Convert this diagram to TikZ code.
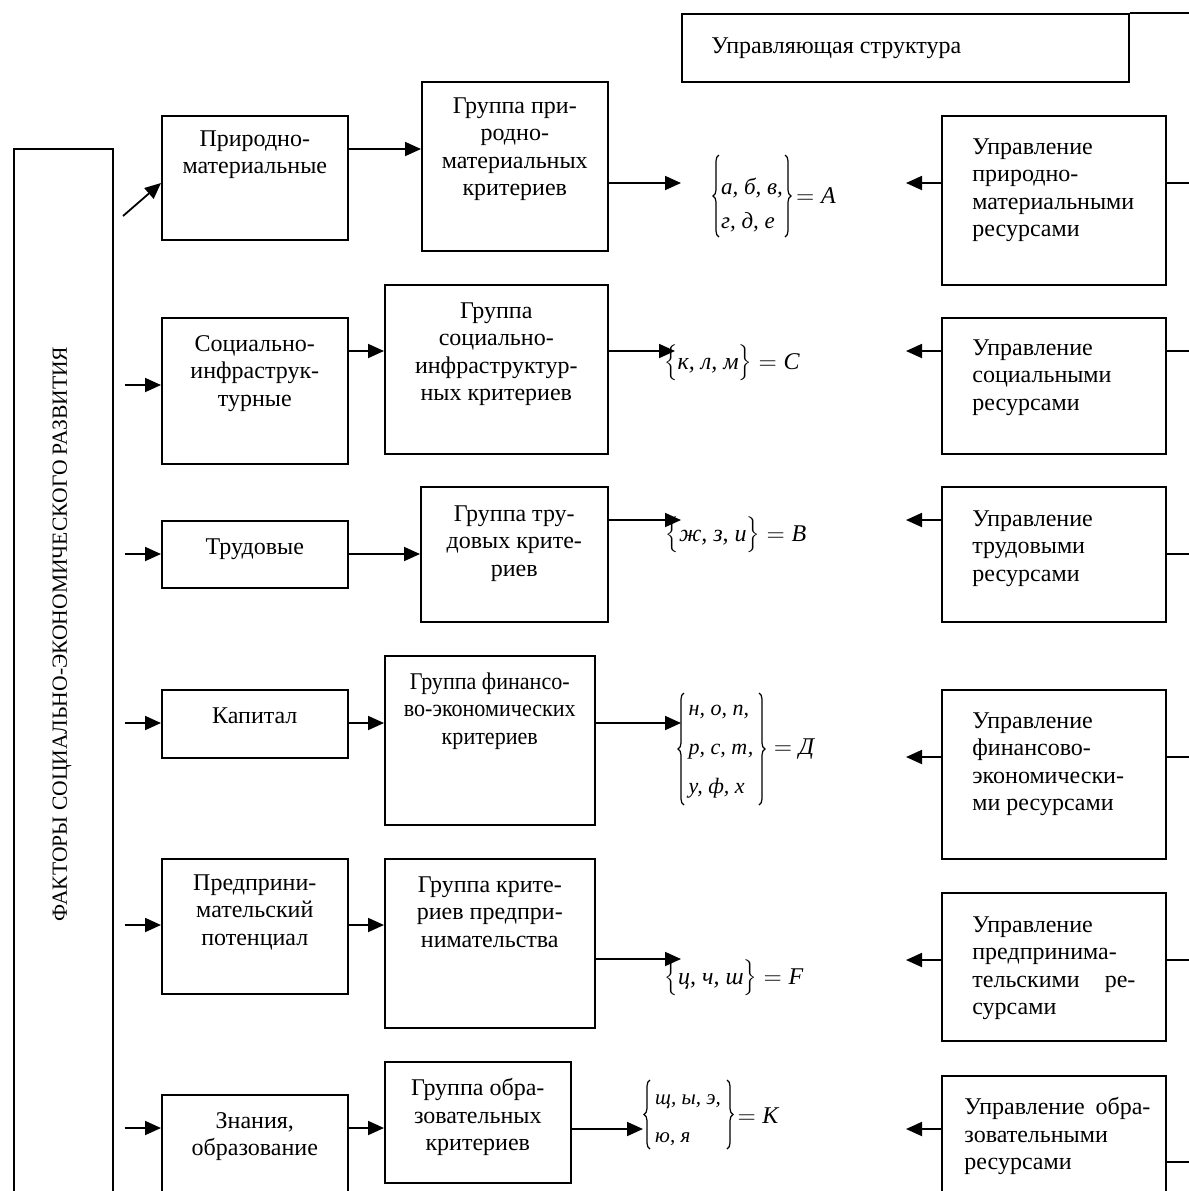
\documentclass[tikz,border=0pt]{standalone}
\usepackage{fontspec}
\setmainfont{Liberation Serif}
\usetikzlibrary{arrows.meta,positioning,decorations.pathreplacing}

\tikzset{
	blok/.style={draw, line width=0.8pt, anchor=north west, inner sep=0pt},
	txt/.style={align=center, inner sep=0pt, font=\fontsize{12}{13.8}\selectfont},
	ltxt/.style={txt, align=left},
	arr/.style={-{Triangle[length=8pt,width=7pt]}, line width=0.9pt},
	brc/.style={decorate, decoration={brace, amplitude=3pt}, line width=0.6pt},
}

\begin{document}
\begin{tikzpicture}[x=0.5pt, y=-0.5pt]
	\useasboundingbox (0,0) rectangle (1189,1191);
	\clip (0,0) rectangle (1189,1191);
	
	% Faktoren links
	\node[blok, minimum width=49.5pt, minimum height=550pt] (fak) at (13,148) {};
	\node[txt, rotate=90, font=\fontsize{10.8}{13}\selectfont] (fakt) at (62,634) {ФАКТОРЫ СОЦИАЛЬНО-ЭКОНОМИЧЕСКОГО РАЗВИТИЯ};
	
	\node[blok, minimum width=93pt, minimum height=62pt] (f1) at (161,115) {};
	\node[blok, minimum width=93pt, minimum height=73pt] (f2) at (161,317) {};
	\node[blok, minimum width=93pt, minimum height=33.5pt] (f3) at (161,520) {};
	\node[blok, minimum width=93pt, minimum height=34pt] (f4) at (161,689) {};
	\node[blok, minimum width=93pt, minimum height=67.5pt] (f5) at (161,858) {};
	\node[blok, minimum width=93pt, minimum height=75pt] (f6) at (161,1094) {};
	\node[txt, below=7.5pt of f1.north] {Природно-\\материальные};
	\node[txt, below=9pt of f2.north] {Социально-\\инфраструк-\\турные};
	\node[txt, below=9pt of f3.north] {Трудовые};
	\node[txt, below=9pt of f4.north] {Капитал};
	\node[txt, below=8pt of f5.north] {Предприни-\\мательский\\потенциал};
	\node[txt, below=9pt of f6.north] {Знания,\\образование};
	
	% Gruppen der Kriterien
	\node[blok, minimum width=93pt, minimum height=84.5pt] (g1) at (421,81) {};
	\node[blok, minimum width=111.5pt, minimum height=84.5pt] (g2) at (384,284) {};
	\node[blok, minimum width=93.5pt, minimum height=67.5pt] (g3) at (420,486) {};
	\node[blok, minimum width=105pt, minimum height=84.5pt] (g4) at (384,655) {};
	\node[blok, minimum width=105pt, minimum height=84.5pt] (g5) at (384,858) {};
	\node[blok, minimum width=93pt, minimum height=60.5pt] (g6) at (384,1061) {};
	\node[txt, below=8pt of g1.north] {Группа при-\\родно-\\материальных\\критериев};
	\node[txt, below=9pt of g2.north] {Группа\\социально-\\инфраструктур-\\ных критериев};
	\node[txt, below=9.5pt of g3.north] {Группа тру-\\довых крите-\\риев};
	\node[txt, below=8.5pt of g4.north, font=\fontsize{12}{13.8}\selectfont\addfontfeature{FakeStretch=0.92}] {Группа финансо-\\во-экономических\\критериев};
	\node[txt, below=9pt of g5.north] {Группа крите-\\риев предпри-\\нимательства};
	\node[txt, below=8.5pt of g6.north] {Группа обра-\\зовательных\\критериев};
	
	% Mengen
	\node[ltxt, font=\fontsize{11.5}{13.8}\selectfont] (mA) at (752,205) {\textit{а, б, в,}\\[3pt]\textit{г, д, е}};
	\draw[brc] (719,237) -- (719,155);
	\draw[brc] (785,155) -- (785,237);
	\node[txt] (eA) at (816,196) {$=\textit{A}$};
	\node[txt] (mC) at (732,363) {$\Bigl\{\textit{к, л, м}\Bigr\}=\textit{C}$};
	\node[txt] (mB) at (736,535) {$\Bigl\{\textit{ж, з, и}\Bigr\}=\textit{B}$};
	\node[ltxt, font=\fontsize{11}{13.8}\selectfont] (mD) at (721,752) {\textit{н, о, п,}\\[5.7pt]\textit{р, с, т,}\\[5.7pt]\textit{у, ф, х}};
	\draw[brc] (684,805) -- (684,693);
	\draw[brc] (759,693) -- (759,805);
	\node[txt] (eD) at (794,749) {$=\textit{Д}$};
	\node[txt] (mF) at (734,978) {$\Bigl\{\textit{ц, ч, ш}\Bigr\}=\textit{F}$};
	\node[ltxt, font=\fontsize{10.5}{13.8}\selectfont] (mK) at (688,1120) {\textit{щ, ы, э,}\\[5.2pt]\textit{ю, я}};
	\draw[brc] (650,1149) -- (650,1080);
	\draw[brc] (727,1080) -- (727,1149);
	\node[txt] (eK) at (758,1116) {$=\textit{K}$};
	
	% Steuerung rechts
	\node[blok, minimum width=223.5pt, minimum height=34pt] (upr) at (681,13) {};
	\node[ltxt, right=15pt of upr.west] {Управляющая структура};
	
	\node[blok, minimum width=112pt, minimum height=84.5pt] (u1) at (941,115) {};
	\node[blok, minimum width=112pt, minimum height=68pt] (u2) at (941,317) {};
	\node[blok, minimum width=112pt, minimum height=67.5pt] (u3) at (941,486) {};
	\node[blok, minimum width=112pt, minimum height=84.5pt] (u4) at (941,689) {};
	\node[blok, minimum width=112pt, minimum height=74pt] (u5) at (941,892) {};
	\node[blok, minimum width=112pt, minimum height=75pt] (u6) at (941,1075) {};
	\node[ltxt, below right=11.5pt and 15.5pt of u1.north west] {Управление\\природно-\\материальными\\ресурсами};
	\node[ltxt, below right=11pt and 15.5pt of u2.north west] {Управление\\социальными\\ресурсами};
	\node[ltxt, below right=12pt and 15.5pt of u3.north west] {Управление\\трудовыми\\ресурсами};
	\node[ltxt, below right=11.5pt and 15.5pt of u4.north west] {Управление\\финансово-\\экономически-\\ми ресурсами};
	\node[ltxt, text width=81.5pt, below right=12pt and 15.5pt of u5.north west] {Управление\\предпринима-\\тельскими\hspace{\stretch{1}}ре-\\сурсами};
	\node[ltxt, text width=93pt, below right=11pt and 11.5pt of u6.north west] {Управление\hspace{\stretch{1}}обра-\\зовательными\\ресурсами};
	
	% Pfeile
	\coordinate (d0) at (123,216);
	\draw[arr] (d0) -- (f1.west |- 0,183);
	\foreach \n/\y in {2/385,3/554,4/723,5/925,6/1128}
		\draw[arr, shorten <=5.5pt] (fak.east |- 0,\y) -- (f\n.west |- 0,\y);
	\foreach \n/\y in {1/149,2/351,3/554,4/723,5/925,6/1128}
		\draw[arr] (f\n.east |- 0,\y) -- (g\n.west |- 0,\y);
	\foreach \n/\x/\y in {1/681/183,2/675/351,3/681/520,4/681/723,5/681/959,6/643/1129} {
		\coordinate (k\n) at (\x,\y);
		\draw[arr] (g\n.east |- k\n) -- (k\n);
	}
	\foreach \n/\y/\z in {1/183/183,2/351/351,3/520/554,4/757/757,5/960/960,6/1129/1162} {
		\coordinate (r\n) at (906,\y);
		\coordinate (s\n) at (1189,\z);
		\draw[arr] (u\n.west |- r\n) -- (r\n);
		\draw[line width=0.9pt] (u\n.east |- s\n) -- (s\n);
	}
	\coordinate (s0) at (1189,13);
	\draw[line width=0.8pt] (upr.north east) -- (s0);
\end{tikzpicture}
\end{document}
